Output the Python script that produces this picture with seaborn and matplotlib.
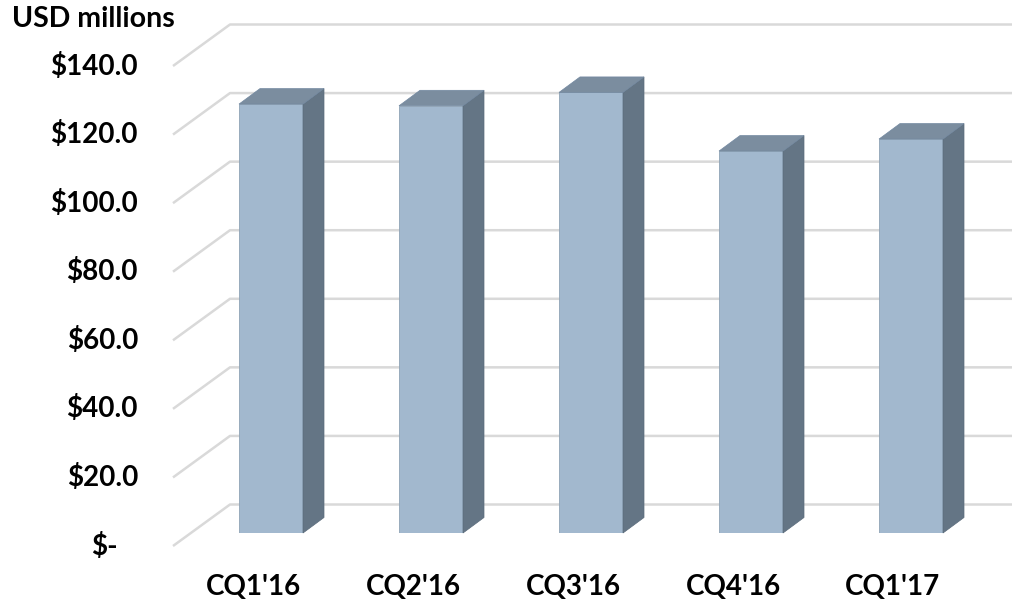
import matplotlib
matplotlib.use("Agg")
import matplotlib.pyplot as plt
from matplotlib.patches import Polygon
import seaborn as sns

# Quarterly revenue, USD millions
quarters = ["CQ1'16", "CQ2'16", "CQ3'16", "CQ4'16", "CQ1'17"]
revenue = [125.1, 124.6, 128.5, 111.4, 114.9]
tick_values = [0, 20, 40, 60, 80, 100, 120, 140]
tick_labels = ["$-", "$20.0", "$40.0", "$60.0", "$80.0", "$100.0", "$120.0", "$140.0"]
unit_label = "USD millions"

FRONT = "#A2B8CE"
SIDE = "#647585"
TOP = "#7B8D9F"
EDGE = "#8FA3B6"
GRID = "#D9D9D9"
TEXT = "#000000"

sns.set_theme(style="white")
plt.rcParams["font.family"] = ["Lato", "DejaVu Sans"]

FIG_W, FIG_H = 1015, 602
fig = plt.figure(figsize=(FIG_W / 100, FIG_H / 100), dpi=100)
fig.patch.set_facecolor("white")
ax = fig.add_axes([191 / FIG_W, 69 / FIG_H, 800 / FIG_W, 480 / FIG_H])
ax.set_facecolor("none")

sns.barplot(x=quarters, y=revenue, width=0.4, color=FRONT, saturation=1,
            edgecolor=EDGE, linewidth=0.6, ax=ax, zorder=3)
ax.set_xlim(-0.5, 4.5)
ax.set_ylim(0, 140)

# pixel -> data-unit conversion for the oblique depth offsets
bbox = ax.get_position()
px_per_x = bbox.width * FIG_W / (ax.get_xlim()[1] - ax.get_xlim()[0])
px_per_y = bbox.height * FIG_H / (ax.get_ylim()[1] - ax.get_ylim()[0])


def off(px_x, px_y):
    return px_x / px_per_x, px_y / px_per_y


bar_dx, bar_dy = off(21, 15.5)        # bar depth
front_dx, front_dy = off(-18, -13)    # front edge of the floor / left wall
back_dx, back_dy = off(39, 28.5)      # back wall
right_x = ax.get_xlim()[0] + (1012 - 191 - 39) / px_per_x

# gridlines: diagonal across the side wall, then along the back wall
x0 = ax.get_xlim()[0]
for v in tick_values:
    xs = [x0 + front_dx, x0 + back_dx, right_x + back_dx]
    ys = [v + front_dy, v + back_dy, v + back_dy]
    ax.plot(xs, ys, color=GRID, lw=1.8, clip_on=False, zorder=1,
            solid_capstyle="butt")

# side and top faces of each bar
for bar in list(ax.patches):
    xl = bar.get_x()
    xr = xl + bar.get_width()
    h = bar.get_height()
    side = Polygon([(xr, 0), (xr + bar_dx, bar_dy), (xr + bar_dx, h + bar_dy), (xr, h)],
                   closed=True, facecolor=SIDE, edgecolor="#5A6B7B", lw=0.5,
                   zorder=3, clip_on=False)
    top = Polygon([(xl, h), (xr, h), (xr + bar_dx, h + bar_dy), (xl + bar_dx, h + bar_dy)],
                  closed=True, facecolor=TOP, edgecolor="#7288A0", lw=0.5,
                  zorder=3, clip_on=False)
    ax.add_patch(side)
    ax.add_patch(top)

# value axis labels on the front edge
for v, lab in zip(tick_values, tick_labels):
    shift = -55 if v == 0 else -35
    ax.annotate(lab, xy=(x0 + front_dx, v + front_dy), xytext=(shift, 0),
                textcoords="offset pixels", ha="right", va="center",
                fontsize=20, fontweight="bold", color=TEXT, annotation_clip=False)

# category labels under the bars
for i, q in enumerate(quarters):
    ax.annotate(q, xy=(i + front_dx, front_dy), xytext=(0, -41),
                textcoords="offset pixels", ha="center", va="center",
                fontsize=20, fontweight="bold", color=TEXT, annotation_clip=False)

fig.text(12 / FIG_W, 1 - 27 / FIG_H, unit_label, ha="left", va="baseline",
         fontsize=20.5, fontweight="bold", color=TEXT)

ax.set(xlabel="", ylabel="", xticks=[], yticks=[])
sns.despine(ax=ax, left=True, bottom=True)

fig.savefig("out.png", dpi=100)
